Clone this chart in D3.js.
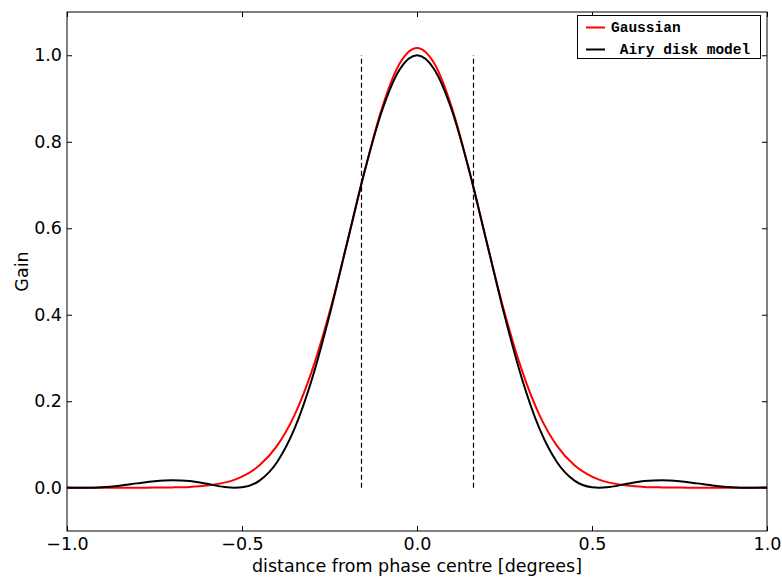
<!DOCTYPE html>
<html>
<head>
<meta charset="utf-8">
<script src="https://cdn.jsdelivr.net/npm/d3@7"></script>
<style>
  body { margin: 0; background: #fff; }
  svg { display: block; }
  .tick text { font-family: "DejaVu Sans", sans-serif; font-size: 17.5px; fill: #000; }
  .lbl { font-family: "DejaVu Sans", sans-serif; font-size: 17.5px; fill: #000; }
  .leg { font-family: "Liberation Mono", monospace; font-size: 14.5px; font-weight: bold; fill: #000; }
</style>
</head>
<body>
<div id="chart"></div>
<script>
// distance from phase centre (degrees)
var offsets = [-1.00, -0.95, -0.90, -0.85, -0.80, -0.75, -0.70, -0.65, -0.60, -0.55, -0.52,
               -0.50, -0.45, -0.40, -0.35, -0.30, -0.25, -0.20, -0.15, -0.10, -0.05,
                0.00,
                0.05,  0.10,  0.15,  0.20,  0.25,  0.30,  0.35,  0.40,  0.45,  0.50,
                0.52,  0.55,  0.60,  0.65,  0.70,  0.75,  0.80,  0.85,  0.90,  0.95,  1.00]
// gain
var gaussian = [0.0000, 0.0000, 0.0000, 0.0000, 0.0001, 0.0003, 0.0008, 0.0020, 0.0051, 0.0119, 0.0188,
                0.0257, 0.0518, 0.0967, 0.1679, 0.2707, 0.4056, 0.5648, 0.7305, 0.8779, 0.9803,
                1.0170,
                0.9803, 0.8779, 0.7305, 0.5648, 0.4056, 0.2707, 0.1679, 0.0967, 0.0518, 0.0257,
                0.0188, 0.0119, 0.0051, 0.0020, 0.0008, 0.0003, 0.0001, 0.0000, 0.0000, 0.0000, 0.0000]
var airy = [0.0008, 0.0000, 0.0012, 0.0048, 0.0101, 0.0151, 0.0175, 0.0154, 0.0090, 0.0018, 0.0000,
            0.0011, 0.0166, 0.0591, 0.1365, 0.2515, 0.3989, 0.5654, 0.7307, 0.8717, 0.9665,
            1.0000,
            0.9665, 0.8717, 0.7307, 0.5654, 0.3989, 0.2515, 0.1365, 0.0591, 0.0166, 0.0011,
            0.0000, 0.0018, 0.0090, 0.0154, 0.0175, 0.0151, 0.0101, 0.0048, 0.0012, 0.0000, 0.0008]
var seriesNames = ["Gaussian", " Airy disk model"]
var markers = [-0.16, 0.16]   // dashed verticals
var xTicks = [-1.0, -0.5, 0.0, 0.5, 1.0]
var yTicks = [0.0, 0.2, 0.4, 0.6, 0.8, 1.0]

var width = 782, height = 577
// plot box (note: "top" is reserved on window, so use a prefix)
var pLeft = 67, pRight = 767, pTop = 12, pBottom = 531

var svg = d3.select("#chart").append("svg")
            .attr("width", width)
            .attr("height", height)

var x = d3.scaleLinear().domain([-1, 1]).range([pLeft, pRight])
var y = d3.scaleLinear().domain([-0.1, 1.1]).range([pBottom, pTop])

var fmt = function(d) { return d3.format(".1f")(d).replace("-", "\u2212") }

// axes (ticks point inward, on all four sides)
svg.append("g")
   .attr("transform", "translate(0," + pBottom + ")")
   .call(d3.axisBottom(x).tickValues(xTicks).tickSize(-5).tickPadding(7).tickFormat(fmt))
   .call(g => g.select(".domain").remove())
svg.append("g")
   .attr("transform", "translate(0," + pTop + ")")
   .call(d3.axisTop(x).tickValues(xTicks).tickSize(-5).tickFormat(""))
   .call(g => g.select(".domain").remove())
svg.append("g")
   .attr("transform", "translate(" + pLeft + ",0)")
   .call(d3.axisLeft(y).tickValues(yTicks).tickSize(-5).tickPadding(5).tickFormat(fmt))
   .call(g => g.select(".domain").remove())
svg.append("g")
   .attr("transform", "translate(" + pRight + ",0)")
   .call(d3.axisRight(y).tickValues(yTicks).tickSize(-5).tickFormat(""))
   .call(g => g.select(".domain").remove())
svg.selectAll(".tick line").attr("stroke", "#000")

var pts = function(vals) { return offsets.map((o, i) => [o, vals[i]]) }
var line = d3.line()
             .x(d => x(d[0]))
             .y(d => y(d[1]))
             .curve(d3.curveMonotoneX)

svg.append("path")
   .datum(pts(gaussian))
   .attr("d", line)
   .attr("fill", "none")
   .attr("stroke", "#ff0000")
   .attr("stroke-width", 2)

svg.append("path")
   .datum(pts(airy))
   .attr("d", line)
   .attr("fill", "none")
   .attr("stroke", "#000")
   .attr("stroke-width", 2)

svg.selectAll(".marker")
   .data(markers)
   .enter().append("line")
   .attr("class", "marker")
   .attr("x1", d => Math.round(x(d)) + 0.5).attr("x2", d => Math.round(x(d)) + 0.5)
   .attr("y1", y(0)).attr("y2", y(1))
   .attr("stroke", "#000")
   .attr("stroke-width", 1.2)
   .attr("stroke-dasharray", "5,3")

// frame
svg.append("rect")
   .attr("x", pLeft).attr("y", pTop)
   .attr("width", pRight - pLeft).attr("height", pBottom - pTop)
   .attr("fill", "none")
   .attr("stroke", "#000")
   .attr("stroke-width", 1)

// labels
svg.append("text")
   .attr("class", "lbl")
   .attr("x", (pLeft + pRight) / 2)
   .attr("y", 572)
   .attr("text-anchor", "middle")
   .text("distance from phase centre [degrees]")
svg.append("text")
   .attr("class", "lbl")
   .attr("transform", "translate(28," + (pTop + pBottom) / 2 + ") rotate(-90)")
   .attr("text-anchor", "middle")
   .text("Gain")

// legend
var leg = svg.append("g")
leg.append("rect")
   .attr("x", 577.5).attr("y", 15.5)
   .attr("width", 183).attr("height", 43)
   .attr("fill", "#fff")
   .attr("stroke", "#000")
   .attr("stroke-width", 1)
var legColors = ["#ff0000", "#000"]
seriesNames.forEach(function(name, i) {
    var ly = 27.5 + i * 22
    leg.append("line")
       .attr("x1", 586).attr("x2", 605)
       .attr("y1", ly).attr("y2", ly)
       .attr("stroke", legColors[i])
       .attr("stroke-width", 2)
    leg.append("text")
       .attr("class", "leg")
       .attr("x", 611)
       .attr("y", ly + 4.5)
       .attr("xml:space", "preserve")
       .style("white-space", "pre")
       .text(name)
})
</script>
</body>
</html>
